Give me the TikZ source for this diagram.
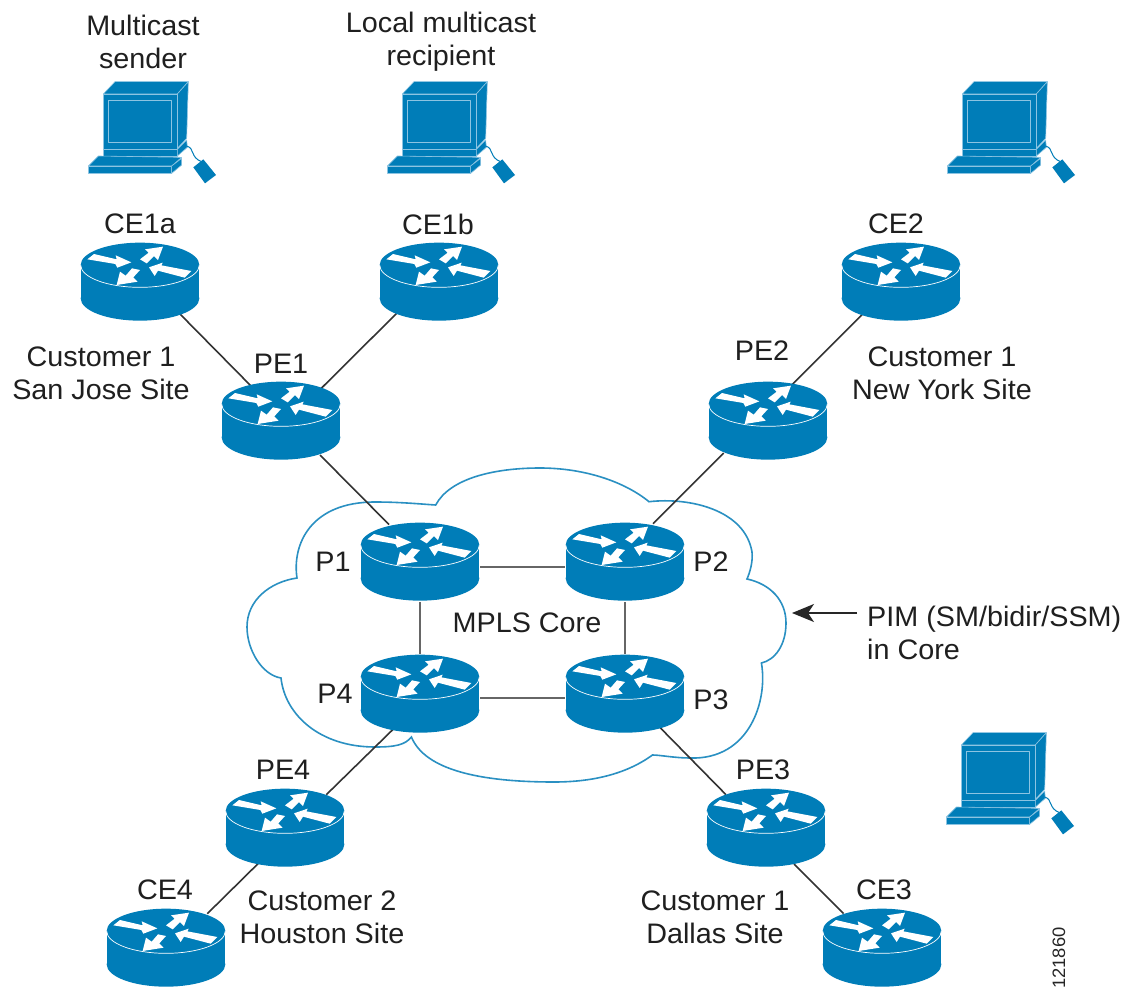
\documentclass[tikz,border=0pt]{standalone}
\usepackage{fontspec}
\setmainfont[FakeStretch=1.02]{Liberation Sans}
\usetikzlibrary{shapes.geometric,arrows.meta}
\definecolor{cisco}{HTML}{007DB8}
\definecolor{cloudline}{HTML}{2A90C2}
\definecolor{iconline}{HTML}{8CC4E2}
\tikzset{
  lbl/.style={font=\fontsize{28.2}{33}\selectfont,text=black!88,align=center,inner sep=0pt},
  routernode/.style={ellipse,minimum width=120pt,minimum height=80pt,inner sep=0pt,outer sep=0pt},
  outerlink/.style={draw=black!80,line width=1.6pt},
  corelink/.style={draw=black!60,line width=2pt},
  cloudpath/.style={draw=cloudline,line width=1.6pt,fill=white},
  pics/routerpic/.style={code={
    \begin{scope}[scale=1/3,shift={(-210,-156)}]
      \fill[cisco] (210,105) ellipse[x radius=178,y radius=67];
      \fill[cisco] (32,105) rectangle (388,205);
      \fill[cisco] (210,205) ellipse[x radius=178,y radius=67];
      \draw[white,line width=0.7pt] (32,105) arc[start angle=180,end angle=0,x radius=178,y radius=67];
      \fill[white] (52,88)--(72,72)--(140,88)--(137,76)--(184,97)--(142,113)--(136,102)--cycle;
      \fill[white] (210,88)--(236,68)--(225,58)--(279,50)--(264,90)--(252,78)--(230,100)--cycle;
      \fill[white] (364,123)--(344,143)--(264,122)--(254,138)--(237,112)--(278,98)--(274,106)--cycle;
      \fill[white] (210,120)--(190,142)--(203,155)--(140,165)--(150,125)--(167,137)--(186,115)--cycle;
    \end{scope}}},
  pics/computerpic/.style={code={
    \begin{scope}[scale=1/3,line join=round]
      \begin{scope}[fill=cisco,draw=iconline,line width=0.6pt]
      \filldraw (100,72)--(135,35)--(355,35)--(322,72)--cycle;
      \filldraw (322,72)--(355,35)--(350,205)--(322,235)--cycle;
      \filldraw (100,72) rectangle (322,238);
      \filldraw (100,238) rectangle (322,258);
      \filldraw (322,238)--(350,210)--(352,232)--(322,258)--cycle;
      \filldraw (85,258)--(335,262)--(305,288)--(55,288)--cycle;
      \filldraw (55,288) rectangle (305,310);
      \filldraw (305,288)--(335,265)--(335,285)--(305,310)--cycle;
      \draw[draw=iconline,line width=0.9pt] (115,90) rectangle (303,218);
      \draw[draw=cisco,line width=1pt] (350,228) .. controls (375,235) and (360,262) .. (395,275);
      \fill (370,292)--(400,268)--(438,315)--(405,340)--cycle;
      \end{scope}
    \end{scope}}}
}
\begin{document}
\begin{tikzpicture}[x=1pt,y=-1pt]
\useasboundingbox (0,0) rectangle (1128,990);
\fill[white] (0,0) rectangle (1128,990);
% routers (anchors)
\node[routernode] (CE1a) at (140,282) {};
\node[routernode] (CE1b) at (439,282) {};
\node[routernode] (CE2) at (901,282) {};
\node[routernode] (PE1) at (281,421) {};
\node[routernode] (PE2) at (768,421) {};
\node[routernode] (P1) at (420,562) {};
\node[routernode] (P2) at (625,562) {};
\node[routernode] (P3) at (625,694) {};
\node[routernode] (P4) at (420,694) {};
\node[routernode] (PE3) at (766,828) {};
\node[routernode] (PE4) at (285,828) {};
\node[routernode] (CE3) at (882,948) {};
\node[routernode] (CE4) at (166,948) {};
% cloud
\path[cloudpath] (435.7,505)
  .. controls (450,478) and (495,468) .. (540,468)
  .. controls (585,468) and (625,482) .. (649,501.7)
  .. controls (690,497) and (745,510) .. (752,552)
  .. controls (753,562) and (750,572) .. (747,579)
  .. controls (770,584) and (786,600) .. (786,623)
  .. controls (786,645) and (775,660) .. (761.4,663)
  .. controls (768,700) and (750,760) .. (690,758)
  .. controls (675,758) and (660,755) .. (652.5,755)
  .. controls (625,775) and (590,782) .. (554,782)
  .. controls (480,782) and (425,770) .. (411.4,737)
  .. controls (405,745) and (395,747) .. (375,747)
  .. controls (320,747) and (285,715) .. (281,678)
  .. controls (262,675) and (247,650) .. (247,627)
  .. controls (247,600) and (270,582) .. (297,578)
  .. controls (292,545) and (310,502) .. (375,502)
  .. controls (400,502) and (420,504) .. (435.7,505) -- cycle;
% connectors
\draw[outerlink] ([xshift=39pt,yshift=-31pt]CE1a.center) -- ([xshift=-29pt,yshift=34pt]PE1.center);
\draw[outerlink] ([xshift=-42pt,yshift=-31pt]CE1b.center) -- ([xshift=39.3pt,yshift=31.7pt]PE1.center);
\draw[outerlink] ([xshift=-39pt,yshift=-32.7pt]CE2.center) -- ([xshift=24pt,yshift=36.3pt]PE2.center);
\draw[outerlink] ([xshift=39pt,yshift=-34pt]PE1.center) -- ([xshift=-31pt,yshift=37.5pt]P1.center);
\draw[outerlink] ([xshift=-44.3pt,yshift=-32pt]PE2.center) -- ([xshift=28pt,yshift=38.3pt]P2.center);
\draw[outerlink] ([xshift=-27.3pt,yshift=-35.7pt]P4.center) -- ([xshift=41.3pt,yshift=33.3pt]PE4.center);
\draw[outerlink] ([xshift=34pt,yshift=-32.5pt]P3.center) -- ([xshift=-40pt,yshift=33.3pt]PE3.center);
\draw[outerlink] ([xshift=-27pt,yshift=-35.7pt]PE4.center) -- ([xshift=41.3pt,yshift=34.3pt]CE4.center);
\draw[outerlink] ([xshift=28pt,yshift=-36pt]PE3.center) -- ([xshift=-38.5pt,yshift=34.5pt]CE3.center);
\draw[corelink] ([yshift=-5pt]P1.east) -- ([yshift=-5pt]P2.west);
\draw[corelink] ([yshift=-4pt]P4.east) -- ([yshift=-4pt]P3.west);
\draw[corelink] (P1) -- (P4);
\draw[corelink] (P2) -- (P3);
% router drawings
\foreach \r in {CE1a,CE1b,CE2,PE1,PE2,P1,P2,P3,P4,PE3,PE4,CE3,CE4}
  \pic at (\r) {routerpic};
% computers
\pic at (70,70) {computerpic};
\pic at (369,70) {computerpic};
\pic at (929,70) {computerpic};
\pic at (928,721) {computerpic};
% labels
\node[lbl] (tsender) at (143,42) {Multicast\\sender};
\node[lbl] (trecip) at (441,42) {Local multicast\\recipient};
\node[lbl] (tce1a) at (140,224) {CE1a};
\node[lbl] (tce1b) at (438,224) {CE1b};
\node[lbl] (tce2) at (896,224) {CE2};
\node[lbl] (tsj) at (101,373) {Customer 1\\San Jose Site};
\node[lbl] (tpe1) at (281,364) {PE1};
\node[lbl] (tpe2) at (762,351) {PE2};
\node[lbl] (tny) at (942,373) {Customer 1\\New York Site};
\node[lbl] (tp1) at (333,562) {P1};
\node[lbl] (tp2) at (711,562) {P2};
\node[lbl] (tp4) at (335,694) {P4};
\node[lbl] (tp3) at (711,700) {P3};
\node[lbl] (tmpls) at (527,623) {MPLS Core};
\node[lbl,anchor=west,align=left] (tpim) at (867,633) {PIM (SM/bidir/SSM)\\in Core};
\node[lbl] (tpe4) at (283,770) {PE4};
\node[lbl] (tpe3) at (763,770) {PE3};
\node[lbl] (tce4) at (165,890) {CE4};
\node[lbl] (tce3) at (884,890) {CE3};
\node[lbl] (thou) at (322,917) {Customer 2\\Houston Site};
\node[lbl] (tdal) at (715,917) {Customer 1\\Dallas Site};
\node[inner sep=0pt,rotate=90,font=\fontsize{18}{20}\selectfont,text=black!85] (tnum) at (1059,958) {121860};
% PIM arrow
\coordinate (pimfrom) at (857,613);
\coordinate (pimto) at (792,613);
\draw[black!85,line width=1.4pt,-{Stealth[length=22pt,width=18pt,inset=6pt]}] (pimfrom) -- (pimto);
\end{tikzpicture}
\end{document}
